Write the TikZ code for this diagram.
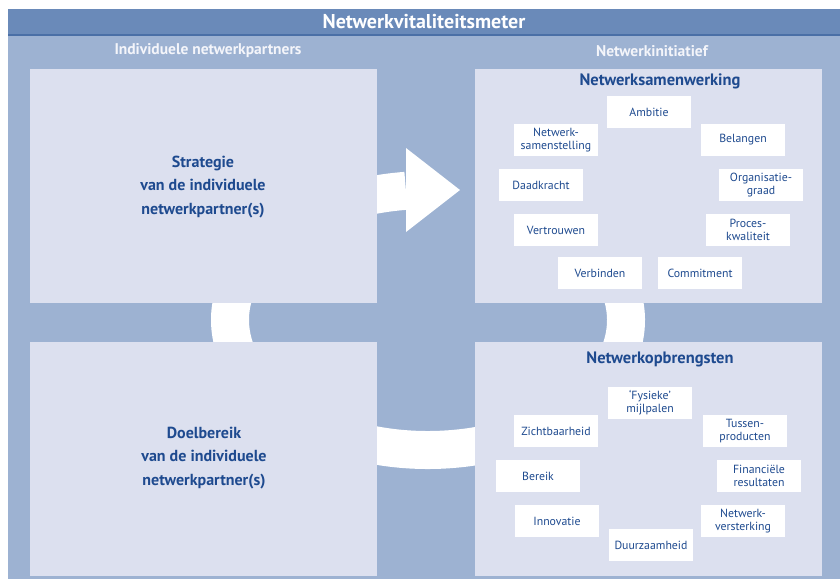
\documentclass[tikz,border=0pt]{standalone}
\usepackage{fontspec}
\setmainfont{PT Sans}
\usepackage{tikz}
\usetikzlibrary{positioning}

\definecolor{barblue}{HTML}{6A8AB9}
\definecolor{barline}{HTML}{4A6FA6}
\definecolor{backblue}{HTML}{9DB2D2}
\definecolor{panelgrey}{HTML}{DCE0EF}
\definecolor{textblue}{HTML}{1E4A8F}
\definecolor{headwhite}{HTML}{F4F5FA}

\begin{document}
\begin{tikzpicture}[x=1pt, y=-1pt,
    panel/.style={rectangle, fill=panelgrey, minimum width=347pt, minimum height=234pt, inner sep=0pt},
    factor/.style={rectangle, fill=white, minimum width=84pt, minimum height=32pt, inner sep=1pt, align=center, text=textblue, font=\fontsize{11.8}{12.8}\selectfont},
    paneltext/.style={align=center, text=textblue, font=\fontsize{16}{23.5}\selectfont\bfseries},
    paneltitle/.style={text=textblue, font=\fontsize{16.5}{18}\selectfont\bfseries},
    columnhead/.style={text=headwhite, font=\fontsize{15.5}{17}\selectfont\bfseries}]
        \def\ringx{428}
        \def\ringy{320}

        \useasboundingbox (0,0) rectangle (840,579);

        % Background and title bar
        \fill[backblue] (8,35) rectangle (840,579);
        \fill[barblue] (8,9) rectangle (840,35);
        \draw[barline, line width=1.2pt] (8,35) -- (840,35);
        \node[text=white, font=\fontsize{20}{22}\selectfont\bfseries] (title) at (424,22) {Netwerkvitaliteitsmeter};
        \node[columnhead] (headleft) at (208,51) {Individuele netwerkpartners};
        \node[columnhead] (headright) at (652,51) {Netwerkinitiatief};

        % The white cycle behind the panels
        \draw[white, line width=38pt] (\ringx,\ringy) ++(263.6:198 and 130) arc[start angle=263.6, end angle=-60, x radius=198, y radius=130];
        \fill[white] (406,148) -- (460,190) -- (406,232) -- cycle;

        % Four panels
        \node[panel] (strategie) at (203.5,186) {};
        \node[panel] (samenwerking) at (648.5,186) {};
        \node[panel] (doelbereik) at (203.5,459) {};
        \node[panel] (opbrengsten) at (648.5,459) {};

        \node[paneltext] (strategietxt) at (203,187) {Strategie\\van de individuele\\netwerkpartner(s)};
        \node[paneltext] (doelbereiktxt) at (204,458) {Doelbereik\\van de individuele\\netwerkpartner(s)};
        \node[paneltitle] (samenwerkingtxt) at (660,81) {Netwerksamenwerking};
        \node[paneltitle] (opbrengstentxt) at (660,359) {Netwerkopbrengsten};

        % Factors of the network cooperation
        \foreach \nm/\x/\y/\txt in {amb/649/112/{Ambitie}, nsa/556/140/{Netwerk-\\samenstelling}, bel/743/140/{Belangen},
            daa/541/185/{Daadkracht}, org/761/185/{Organisatie-\\graad}, ver/556/230/{Vertrouwen},
            pro/748/230/{Proces-\\kwaliteit}, vbi/600/273/{Verbinden}, com/700/273/{Commitment}} {
            \node[factor] (sw-\nm) at (\x,\y) {\txt};
        }

        % Network yields
        \foreach \nm/\x/\y/\txt in {fys/650/403/{‘Fysieke’\\mijlpalen}, zic/556/431/{Zichtbaarheid}, tus/745/431/{Tussen-\\producten},
            ber/538/476/{Bereik}, fin/759/476/{Financiële\\resultaten}, inn/557/521/{Innovatie},
            nve/743/521/{Netwerk-\\versterking}, duu/651/545/{Duurzaamheid}} {
            \node[factor] (op-\nm) at (\x,\y) {\txt};
        }
    \end{tikzpicture}
\end{document}
